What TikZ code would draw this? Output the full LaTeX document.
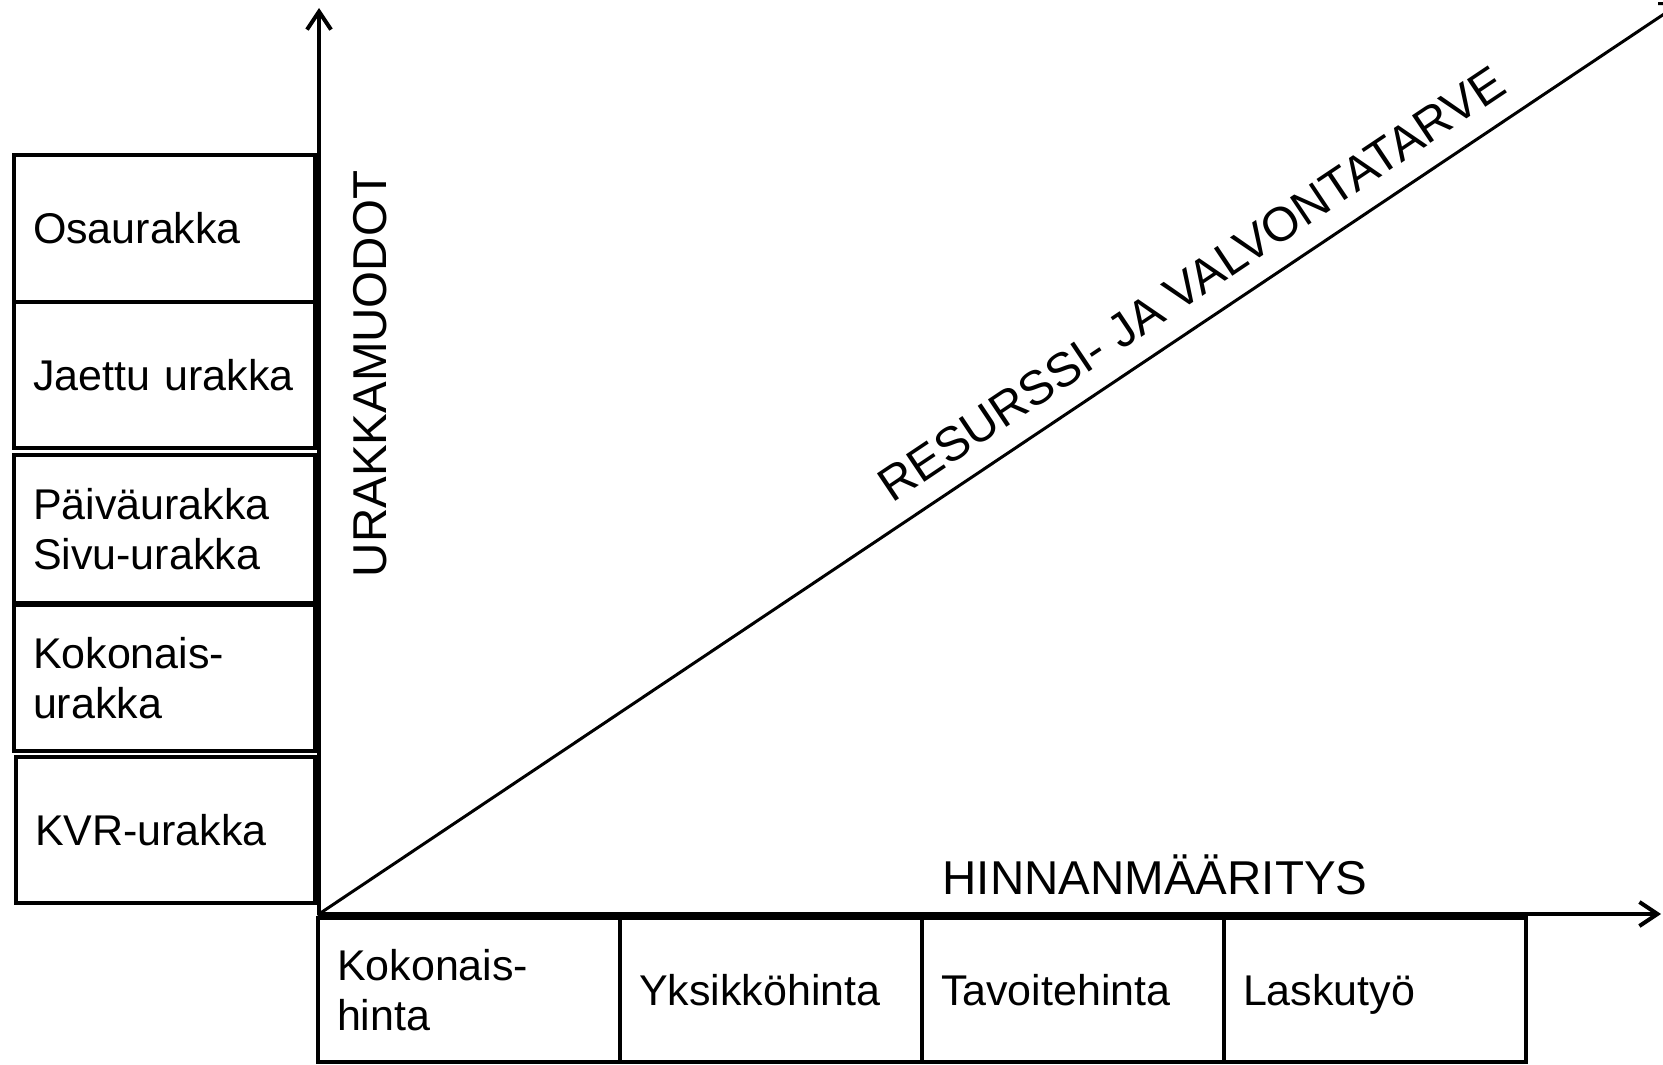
\documentclass[tikz,border=0pt]{standalone}
\usepackage{fontspec}
\setmainfont{Liberation Sans}
\usetikzlibrary{arrows.meta}
\begin{document}
\begin{tikzpicture}[x=1pt,y=-1pt,
  boxstyle/.style={draw, line width=4pt, anchor=north west, align=left,
    inner xsep=19pt, inner ysep=0pt, outer sep=0pt,
    font=\fontsize{43}{50}\selectfont},
  lbox/.style={boxstyle, text width=263pt},
  bbox/.style={boxstyle, text width=264pt, minimum height=144pt},
  axisline/.style={line width=4pt, line cap=round,
    -{Straight Barb[length=18pt,width=24pt]}},
  diagline/.style={line width=3pt, line cap=round,
    -{Straight Barb[length=18pt,width=24pt]}},
  biglabel/.style={font=\fontsize{47.5}{56}\selectfont, inner sep=0pt}
]
\useasboundingbox (0,0) rectangle (1663,1065);
\clip (0,0) rectangle (1663,1065);

% left column: contract forms
\node[lbox, minimum height=147pt] (osa) at (14,155) {Osaurakka};
\node[lbox, minimum height=146pt] (jae) at (14,302) {Jaettu urakka};
\node[lbox, minimum height=148pt] (pai) at (14,455) {Päiväurakka\\Sivu-urakka};
\node[lbox, minimum height=146pt] (kok) at (14,605) {Kokonais-\\urakka};
\node[boxstyle, text width=261pt, minimum height=146pt] (kvr) at (16,757) {KVR-urakka};

% bottom row: pricing
\node[bbox] (khinta) at (318,918) {Kokonais-\\hinta};
\node[bbox] (yks) at (620,918) {Yksikköhinta};
\node[bbox] (tav) at (922,918) {Tavoitehinta};
\node[bbox, text depth=0pt] (las) at (1224,918) {Laskutyö};

% axes
\coordinate (O) at (319,914);
\coordinate (ytip) at (319,8);
\coordinate (xtip) at (1661,914);
\coordinate (dtip) at (1682,2);

\draw[axisline] (O) -- (ytip);
\draw[axisline] (O) -- (xtip);
\draw[diagline] (O) -- node[sloped, pos=0.656, anchor=south, inner xsep=0pt,
  inner ysep=20pt, font=\fontsize{48}{56}\selectfont]
  (diaglabel) {RESURSSI- JA VALVONTATARVE} (dtip);

\node[biglabel, rotate=90, anchor=base] (urak) at (386,374) {URAKKAMUODOT};
\node[biglabel, anchor=base] (hinn) at (1155,894) {HINNANMÄÄRITYS};
\end{tikzpicture}
\end{document}
